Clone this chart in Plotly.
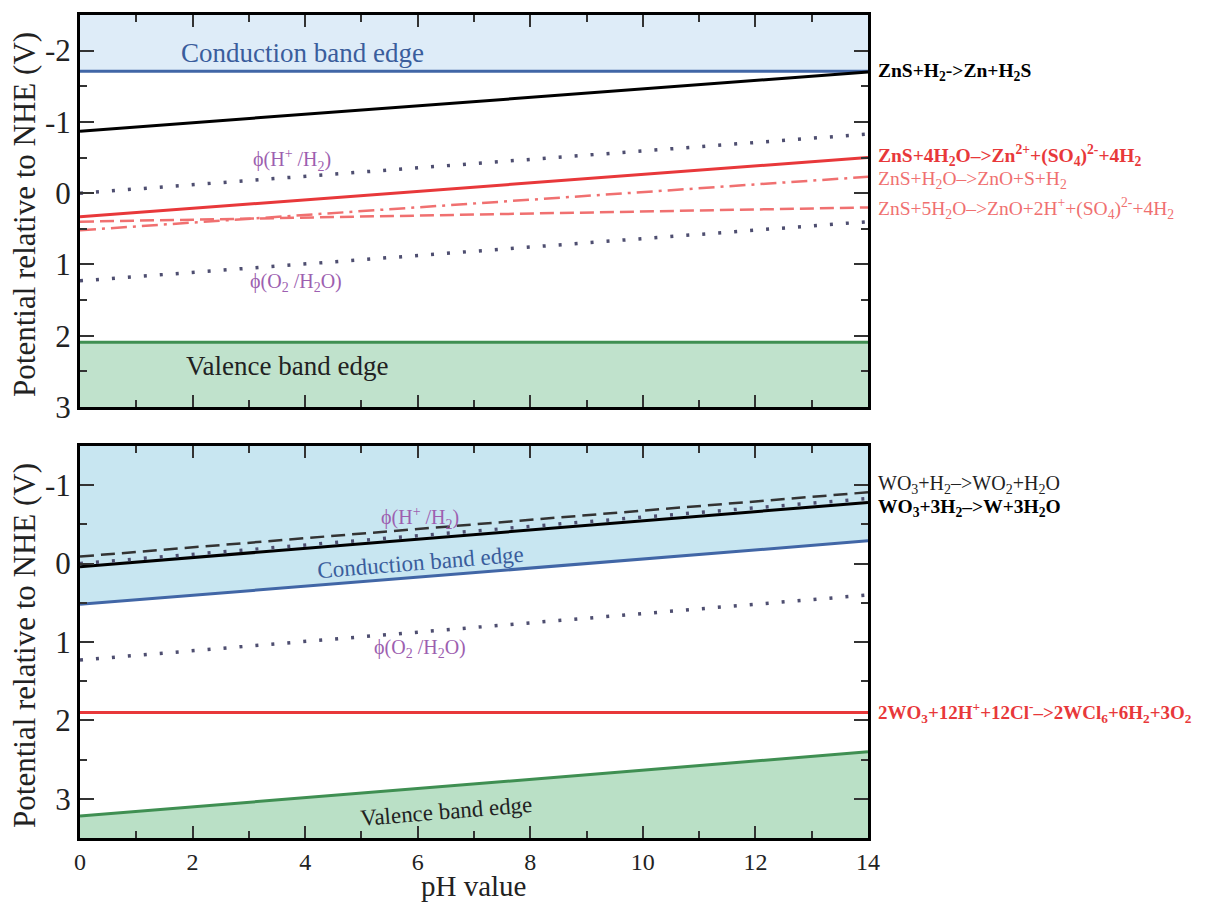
import plotly.graph_objects as go

# ---------------- data ----------------
ph = [0, 14]

# top panel (ZnS)
top_cb = [-1.71, -1.71]
top_vb = [2.09, 2.09]
zns_h2 = [-0.87, -1.70]
top_phi_h = [0.0, -0.83]
top_phi_o = [1.23, 0.40]
zns_4h2o = [0.33, -0.50]
zns_h2o = [0.52, -0.23]
zns_5h2o = [0.40, 0.20]

# bottom panel (WO3)
wo3_cb = [0.52, -0.29]
wo3_vb = [3.22, 2.40]
wo3_h2 = [-0.09, -0.91]
wo3_3h2 = [0.04, -0.78]
bot_phi_h = [0.0, -0.83]
bot_phi_o = [1.23, 0.40]
wo3_wcl = [1.90, 1.90]

top_range = [3.0, -2.5]
bot_range = [3.5, -1.5]
x_ticks = [0, 2, 4, 6, 8, 10, 12, 14]
top_yticks = [-2, -1, 0, 1, 2, 3]
bot_yticks = [-1, 0, 1, 2, 3]

FONT = "Liberation Serif"
BLUE = "#4166a6"
GREEN = "#3f8f52"
RED = "#e8383a"
LRED = "#f07070"
DOT = "#4e4e70"
PURP = "#9d5fb0"

fig = go.Figure()

def poly(xa, ya, xs, ys, color):
    fig.add_trace(go.Scatter(x=xs, y=ys, fill="toself", fillcolor=color,
                             line=dict(width=0), mode="lines", hoverinfo="skip",
                             showlegend=False, xaxis=xa, yaxis=ya))

def line(xa, ya, ys, color, width, dash="solid"):
    fig.add_trace(go.Scatter(x=ph, y=ys, mode="lines",
                             line=dict(color=color, width=width, dash=dash),
                             showlegend=False, xaxis=xa, yaxis=ya))

# ---- top panel fills ----
poly("x", "y", ph + ph[::-1], top_cb + [top_range[1]] * 2, "rgb(222,236,248)")
poly("x", "y", ph + ph[::-1], top_vb + [top_range[0]] * 2, "rgb(192,226,204)")
# ---- top panel lines ----
line("x", "y", top_cb, BLUE, 3)
line("x", "y", top_vb, GREEN, 3)
line("x", "y", top_phi_h, DOT, 3.5, "3px,13px")
line("x", "y", top_phi_o, DOT, 3.5, "3px,13px")
line("x", "y", zns_5h2o, LRED, 2.5, "14px,6px")
line("x", "y", zns_h2o, LRED, 2.5, "16px,6px,3px,6px")
line("x", "y", zns_4h2o, RED, 3)
line("x", "y", zns_h2, "black", 3)

# ---- bottom panel fills ----
poly("x2", "y2", ph + ph[::-1], wo3_cb + [bot_range[1]] * 2, "rgb(200,230,241)")
poly("x2", "y2", ph + ph[::-1], wo3_vb + [bot_range[0]] * 2, "rgb(186,224,198)")
# ---- bottom panel lines ----
line("x2", "y2", wo3_cb, BLUE, 3)
line("x2", "y2", wo3_vb, GREEN, 3)
line("x2", "y2", bot_phi_o, DOT, 3.5, "3px,13px")
line("x2", "y2", wo3_wcl, RED, 3)
line("x2", "y2", wo3_h2, "#333333", 2.5, "14px,7px")
line("x2", "y2", wo3_3h2, "black", 3)
line("x2", "y2", bot_phi_h, DOT, 3.5, "3px,13px")

# ---------------- axes ----------------
def xax(domain_anchor, labels):
    return dict(range=[0, 14], tickmode="array", tickvals=x_ticks,
                ticktext=[str(v) for v in x_ticks] if labels else [""] * len(x_ticks),
                ticks="inside", ticklen=12, tickwidth=2, tickcolor="#333",
                minor=dict(tickmode="array", tickvals=[1, 3, 5, 7, 9, 11, 13],
                           ticks="inside", ticklen=7, tickwidth=2, tickcolor="#333"),
                showline=True, linecolor="black", linewidth=3, mirror="ticks",
                showgrid=False, zeroline=False, anchor=domain_anchor,
                tickfont=dict(family=FONT, size=24, color="#222"))

def yax(rng, ticks, domain, anchor):
    minors = [t + 0.5 for t in range(-3, 4) if min(rng) < t + 0.5 < max(rng)]
    return dict(range=rng, tickmode="array", tickvals=ticks,
                ticktext=[str(v) for v in ticks],
                ticks="inside", ticklen=14, tickwidth=2, tickcolor="#333",
                minor=dict(tickmode="array", tickvals=minors,
                           ticks="inside", ticklen=7, tickwidth=2, tickcolor="#333"),
                showline=True, linecolor="black", linewidth=3, mirror="ticks",
                showgrid=False, zeroline=False, domain=domain, anchor=anchor,
                tickfont=dict(family=FONT, size=31, color="#222"))

fig.update_layout(
    width=1217, height=903,
    margin=dict(l=80, r=349, t=15, b=65, autoexpand=False),
    paper_bgcolor="white", plot_bgcolor="white",
    xaxis=xax("y", False),
    yaxis=yax(top_range, top_yticks, [0.5237, 1.0], "x"),
    xaxis2=xax("y2", True),
    yaxis2=yax(bot_range, bot_yticks, [0.0, 0.4763], "x2"),
    font=dict(family=FONT, color="black"),
)

ann = []
# y titles
for yr in ["y domain", "y2 domain"]:
    ann.append(dict(text="Potential relative to NHE (V)", xref="paper", yref=yr,
                    x=(25 - 80) / 788, y=0.49, textangle=-90, showarrow=False,
                    xanchor="center", yanchor="middle",
                    font=dict(family=FONT, size=31, color="#222")))
# x title
ann.append(dict(text="pH value", xref="paper", yref="paper", x=0.5,
                y=-(886 - 838) / 823, xanchor="center", yanchor="middle",
                showarrow=False, font=dict(family=FONT, size=29, color="#222")))

def t(text, x, y, xr, yr, size, color, angle=0, xanchor="center"):
    ann.append(dict(text=text, x=x, y=y, xref=xr, yref=yr, showarrow=False,
                    textangle=angle, xanchor=xanchor, yanchor="middle",
                    font=dict(family=FONT, size=size, color=color)))

# top panel texts
t("Conduction band edge", 3.95, -1.96, "x", "y", 27, "#3a5d9c")
t("Valence band edge", 3.68, 2.42, "x", "y", 27, "#222")
t("ϕ(H<sup>+</sup> /H<sub>2</sub>)", 3.77, -0.46, "x", "y", 20, PURP)
t("ϕ(O<sub>2</sub> /H<sub>2</sub>O)", 3.84, 1.26, "x", "y", 20, PURP)
# bottom panel texts
t("Conduction band edge", 6.05, -0.02, "x2", "y2", 23, "#3a5d9c", -4.6)
t("Valence band edge", 6.5, 3.16, "x2", "y2", 23, "#222", -4.6)
t("ϕ(H<sup>+</sup> /H<sub>2</sub>)", 6.04, -0.58, "x2", "y2", 20, PURP)
t("ϕ(O<sub>2</sub> /H<sub>2</sub>O)", 6.04, 1.08, "x2", "y2", 20, PURP)

# right side reaction labels
def r(text, y, yr, color, size=19.5):
    ann.append(dict(text=text, x=1.0, y=y, xref="paper", yref=yr, showarrow=False,
                    xanchor="left", yanchor="middle", xshift=8,
                    font=dict(family=FONT, size=size, color=color)))

r("<b>ZnS+H<sub>2</sub>->Zn+H<sub>2</sub>S</b>", -1.70, "y", "black")
r("<b>ZnS+4H<sub>2</sub>O–>Zn<sup>2+</sup>+(SO<sub>4</sub>)<sup>2-</sup>+4H<sub>2</sub></b>", -0.53, "y", RED)
r("ZnS+H<sub>2</sub>O–>ZnO+S+H<sub>2</sub>", -0.18, "y", LRED)
r("ZnS+5H<sub>2</sub>O–>ZnO+2H<sup>+</sup>+(SO<sub>4</sub>)<sup>2-</sup>+4H<sub>2</sub>", 0.21, "y", LRED)
r("WO<sub>3</sub>+H<sub>2</sub>–>WO<sub>2</sub>+H<sub>2</sub>O", -1.01, "y2", "#222", 20)
r("<b>WO<sub>3</sub>+3H<sub>2</sub>–>W+3H<sub>2</sub>O</b>", -0.71, "y2", "black")
r("<b>2WO<sub>3</sub>+12H<sup>+</sup>+12Cl<sup>-</sup>–>2WCl<sub>6</sub>+6H<sub>2</sub>+3O<sub>2</sub></b>", 1.90, "y2", RED, 19)

fig.update_layout(annotations=ann)
fig.write_html("out.html", config={"displayModeBar": False},
               post_script="document.body.style.margin='0';")
